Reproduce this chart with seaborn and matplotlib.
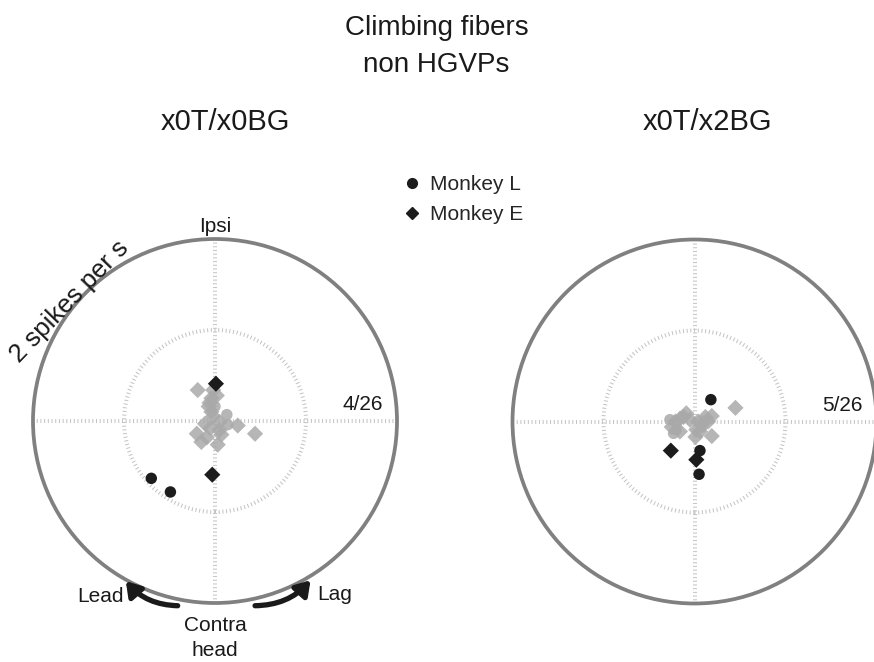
import numpy as np
import pandas as pd
import matplotlib
matplotlib.use("Agg")
import matplotlib.pyplot as plt
from matplotlib.patches import Circle
from matplotlib.lines import Line2D
import seaborn as sns

# ---------------- data (spikes/s, x = lag(+)/lead(-), y = ipsi(+)/contra(-)) ----
# Left panel: x0T/x0BG
left_sig_L_x = [-0.70, -0.49]
left_sig_L_y = [-0.63, -0.78]
left_sig_E_x = [0.01, -0.03]
left_sig_E_y = [0.41, -0.59]
left_ns_L_x = [0.00, 0.13, 0.14]
left_ns_L_y = [0.16, 0.07, -0.04]
left_ns_E_x = [-0.19, -0.02, -0.04, -0.07, -0.04, 0.25, 0.44, -0.11, -0.05, -0.20,
               -0.15, 0.05, 0.07, 0.03, 0.05, -0.06, -0.02, 0.02, -0.09]
left_ns_E_y = [0.34, 0.34, 0.25, 0.16, 0.10, -0.05, -0.14, -0.03, -0.08, -0.14,
               -0.23, -0.10, -0.15, -0.26, -0.01, 0.20, 0.05, 0.28, -0.18]

# Right panel: x0T/x2BG
right_sig_L_x = [0.18, 0.06, 0.05]
right_sig_L_y = [0.24, -0.32, -0.58]
right_sig_E_x = [0.02, -0.26]
right_sig_E_y = [-0.42, -0.32]
right_ns_L_x = [-0.27, -0.20, -0.23, 0.08]
right_ns_L_y = [0.02, -0.09, -0.13, -0.06]
right_ns_E_x = [-0.16, -0.09, -0.25, -0.16, 0.04, 0.12, 0.19, 0.02, 0.01, 0.19,
                0.45, 0.15, 0.06, -0.21, -0.12, 0.09, -0.05]
right_ns_E_y = [0.03, 0.09, -0.06, -0.11, 0.00, 0.05, 0.06, -0.09, -0.17, -0.16,
                0.15, 0.00, -0.11, 0.00, 0.05, -0.02, 0.02]

panel_titles = ["x0T/x0BG", "x0T/x2BG"]
panel_counts = ["4/26", "5/26"]
legend_labels = ["Monkey L", "Monkey E"]


def build(sig_L_x, sig_L_y, sig_E_x, sig_E_y, ns_L_x, ns_L_y, ns_E_x, ns_E_y):
    parts = []
    for xs, ys, sig, mk in [(ns_L_x, ns_L_y, "ns", "L"), (ns_E_x, ns_E_y, "ns", "E"),
                            (sig_L_x, sig_L_y, "sig", "L"), (sig_E_x, sig_E_y, "sig", "E")]:
        parts.append(pd.DataFrame({"x": xs, "y": ys, "sig": sig, "monkey": mk}))
    return pd.concat(parts, ignore_index=True)


df_left = build(left_sig_L_x, left_sig_L_y, left_sig_E_x, left_sig_E_y,
                left_ns_L_x, left_ns_L_y, left_ns_E_x, left_ns_E_y)
df_right = build(right_sig_L_x, right_sig_L_y, right_sig_E_x, right_sig_E_y,
                 right_ns_L_x, right_ns_L_y, right_ns_E_x, right_ns_E_y)

# ---------------- style ----------------
sns.set_theme(style="white")
plt.rcParams["font.family"] = ["Liberation Sans", "DejaVu Sans"]

W, H = 874, 662
fig = plt.figure(figsize=(W / 100, H / 100), dpi=100)

SCALE = 91.0  # px per spike/s
LIM = 2.3
side = 2 * LIM * SCALE

TICK_LS = (0, (0.25, 0.67))
TICK_COL = "#c4c4c4"
RING_COL = "#808080"
SIG_COL = "#1c1c1c"
NS_COL = "#a9a9a9"
TXT = "#1a1a1a"
markers = {"L": "o", "E": "D"}


def make_axes(cx, cy):
    ax = fig.add_axes([(cx - side / 2) / W, (H - cy - side / 2) / H, side / W, side / H])
    ax.set_xlim(-LIM, LIM)
    ax.set_ylim(-LIM, LIM)
    ax.set_aspect("equal")
    ax.axis("off")
    return ax


def draw_panel(ax, df, count):
    # crosshair and 1 spike/s ring (hatched look)
    ax.plot([-2, 2], [0, 0], color=TICK_COL, lw=2.9, ls=TICK_LS, zorder=1)
    ax.plot([0, 0], [-2, 2], color=TICK_COL, lw=2.9, ls=TICK_LS, zorder=1)
    ax.add_patch(Circle((0, 0), 1.0, fill=False, ec=TICK_COL, lw=2.9, ls=TICK_LS, zorder=1))
    ax.add_patch(Circle((0, 0), 2.0, fill=False, ec=RING_COL, lw=2.7, zorder=2))
    ns = df[df["sig"] == "ns"]
    sg = df[df["sig"] == "sig"]
    sns.scatterplot(data=ns, x="x", y="y", style="monkey", markers=markers,
                    color=NS_COL, s=68, alpha=0.85, linewidth=0, legend=False, ax=ax,
                    zorder=3)
    sns.scatterplot(data=sg, x="x", y="y", style="monkey", markers=markers,
                    color=SIG_COL, s=68, linewidth=0, legend=False, ax=ax, zorder=4)
    ax.set_xlim(-LIM, LIM)
    ax.set_ylim(-LIM, LIM)
    ax.text(1.85, 0.12, count, ha="right", va="baseline", fontsize=15, color=TXT)


ax1 = make_axes(215, 421)
ax2 = make_axes(694.5, 421.5)
draw_panel(ax1, df_left, panel_counts[0])
draw_panel(ax2, df_right, panel_counts[1])

# Left panel annotations
ax1.text(0, 2.14, "Ipsi", ha="center", va="center", fontsize=15, color=TXT)
ang = np.deg2rad(141)
ax1.text(2.04 * np.cos(ang) + 0.04, 2.04 * np.sin(ang) - 0.02, "2 spikes per s",
         ha="center", va="baseline", rotation=46, fontsize=18.5, color=TXT,
         rotation_mode="anchor")
ax1.text(-1.26, -1.93, "Lead", ha="center", va="center", fontsize=15, color=TXT)
ax1.text(1.32, -1.91, "Lag", ha="center", va="center", fontsize=15, color=TXT)
ax1.text(0, -2.25, "Contra", ha="center", va="center", fontsize=15, color=TXT)
ax1.text(0, -2.52, "head", ha="center", va="center", fontsize=15, color=TXT)
arrow_kw = dict(arrowstyle="-|>,head_width=0.45,head_length=0.7", lw=3.8,
                color=TXT, shrinkA=0, shrinkB=0)
ax1.annotate("", xy=(-0.98, -1.76), xytext=(-0.41, -2.03),
             arrowprops=dict(connectionstyle="arc3,rad=-0.22", **arrow_kw),
             annotation_clip=False)
ax1.annotate("", xy=(1.05, -1.75), xytext=(0.44, -2.03),
             arrowprops=dict(connectionstyle="arc3,rad=0.22", **arrow_kw),
             annotation_clip=False)

# Titles
fig.text(436.5 / W, 1 - 35 / H, "Climbing fibers", ha="center", va="baseline",
         fontsize=20, color=TXT)
fig.text(436.5 / W, 1 - 72 / H, "non HGVPs", ha="center", va="baseline",
         fontsize=20, color=TXT)
fig.text(225 / W, 1 - 130 / H, panel_titles[0], ha="center", va="baseline",
         fontsize=21, color=TXT)
fig.text(707.5 / W, 1 - 130 / H, panel_titles[1], ha="center", va="baseline",
         fontsize=21, color=TXT)

# Legend
handles = [Line2D([], [], ls="none", marker="o", color=SIG_COL, markersize=7),
           Line2D([], [], ls="none", marker="D", color=SIG_COL, markersize=6)]
fig.legend(handles, legend_labels, loc="upper left",
           bbox_to_anchor=(404 / W, 1 - 175 / H), frameon=False, fontsize=15,
           handlelength=0.8, handletextpad=0.45, labelspacing=0.55, borderpad=0,
           borderaxespad=0)

fig.savefig("out.png", dpi=100)
